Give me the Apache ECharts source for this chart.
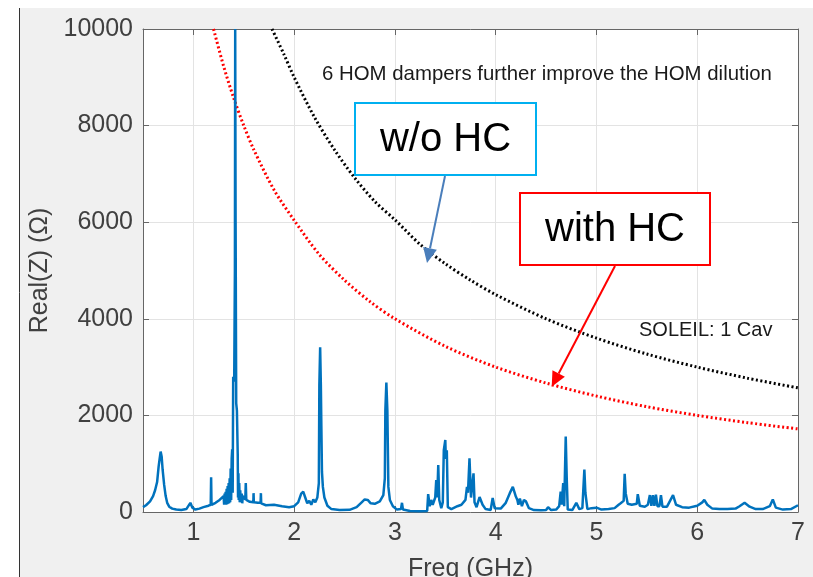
<!DOCTYPE html>
<html>
<head>
<meta charset="utf-8">
<script src="https://cdn.jsdelivr.net/npm/echarts@6/dist/echarts.min.js"></script>
<style>html,body{margin:0;padding:0;background:#fff}#c{width:813px;height:577px}</style>
</head>
<body>
<div id="c"></div>
<script>
// ---- data ----
const xTicks = [1, 2, 3, 4, 5, 6, 7];
const yTicks = [0, 2000, 4000, 6000, 8000, 10000];

const specFreq = [0.50,0.53,0.57,0.60,0.62,0.64,0.655,0.665,0.675,0.685,0.695,0.71,0.725,0.74,0.76,0.79,0.83,0.88,0.93,0.97,0.99,1.02,1.06,1.10,1.15,1.172,1.176,1.18,1.22,1.26,1.30,1.305,1.31,1.315,1.32,1.325,1.33,1.335,1.34,1.345,1.35,1.355,1.36,1.365,1.37,1.375,1.38,1.385,1.39,1.395,1.405,1.412,1.415,1.419,1.425,1.432,1.44,1.443,1.447,1.45,1.455,1.46,1.465,1.47,1.48,1.485,1.49,1.515,1.52,1.525,1.56,1.595,1.597,1.60,1.64,1.667,1.67,1.673,1.72,1.80,1.88,1.95,2.00,2.04,2.07,2.09,2.11,2.13,2.15,2.17,2.19,2.21,2.23,2.245,2.25,2.258,2.265,2.27,2.276,2.285,2.30,2.33,2.37,2.45,2.55,2.62,2.67,2.70,2.73,2.76,2.80,2.85,2.885,2.90,2.905,2.915,2.925,2.935,2.95,2.98,3.02,3.06,3.07,3.08,3.15,3.25,3.32,3.33,3.345,3.36,3.375,3.40,3.41,3.42,3.43,3.44,3.46,3.475,3.485,3.50,3.505,3.515,3.525,3.56,3.62,3.66,3.70,3.715,3.725,3.74,3.755,3.78,3.79,3.81,3.84,3.87,3.90,3.95,3.97,3.99,4.05,4.10,4.14,4.17,4.20,4.215,4.225,4.24,4.26,4.28,4.30,4.33,4.38,4.45,4.50,4.52,4.55,4.60,4.63,4.645,4.655,4.67,4.68,4.695,4.705,4.715,4.76,4.80,4.83,4.86,4.88,4.89,4.91,4.95,5.00,5.05,5.12,5.18,5.22,5.24,5.27,5.28,5.29,5.31,5.35,5.40,5.41,5.43,5.48,5.51,5.53,5.545,5.56,5.575,5.59,5.605,5.625,5.64,5.655,5.70,5.76,5.79,5.85,5.92,6.00,6.05,6.07,6.10,6.15,6.22,6.30,6.38,6.42,6.47,6.52,6.58,6.65,6.72,6.75,6.78,6.85,6.93,7.00];
const specZ = [100,140,220,330,450,620,940,1100,1250,1150,870,560,330,190,110,70,50,40,60,190,90,50,70,100,130,150,720,150,190,250,330,150,380,150,420,150,480,160,540,170,600,180,700,200,900,250,1100,1300,400,2800,2700,5000,10000,6000,2250,2100,1200,300,800,250,600,200,450,200,380,180,330,260,600,250,210,200,390,200,190,190,390,180,140,150,120,100,120,200,380,420,300,180,230,150,260,200,300,600,2630,3410,2630,1770,830,520,300,130,60,40,45,100,200,260,250,180,170,220,350,700,2100,2680,2100,520,250,120,50,60,190,50,20,15,20,370,120,250,150,300,660,300,970,250,80,200,1280,1490,1100,1280,100,60,120,150,250,520,400,1110,300,800,200,100,310,150,60,40,290,80,70,190,390,520,320,250,150,280,120,250,220,80,40,35,40,100,40,50,120,420,150,600,120,1560,700,50,40,190,60,80,880,400,60,80,90,50,60,80,150,180,230,790,390,170,150,170,370,130,110,150,350,130,350,130,360,120,120,350,110,110,350,150,100,90,130,200,250,150,70,60,60,70,120,190,110,60,60,120,260,90,50,60,140];

const noHcFreq = [1.78,1.9,2.0,2.2,2.4,2.6,2.8,3.0,3.25,3.5,3.75,4.0,4.5,5.0,5.5,6.0,6.5,7.0];
const noHcZ    = [10000,9470,9000,8180,7500,6920,6430,6050,5540,5140,4800,4500,4000,3600,3270,3000,2770,2570];

const hcFreq = [1.2,1.3,1.4,1.5,1.6,1.8,2.0,2.25,2.5,2.75,3.0,3.5,4.0,4.5,5.0,5.5,6.0,6.5,7.0];
const hcZ    = [10000,9230,8570,8000,7500,6670,6040,5330,4800,4360,4000,3430,3000,2670,2400,2180,2000,1850,1720];

const zip = (a, b) => a.map((v, i) => [v, b[i]]);

const FONT = 'Liberation Sans, Arial, Helvetica, sans-serif';
const AX = '#666666';
const LBL = '#404040';

const chart = echarts.init(document.getElementById('c'), null, {renderer: 'canvas'});

function arrow(x1, y1, x2, y2, color, headLen, halfW) {
  const dx = x2 - x1, dy = y2 - y1, L = Math.hypot(dx, dy);
  const ux = dx / L, uy = dy / L;
  const bx = x2 - ux * headLen, by = y2 - uy * headLen;
  const px = -uy, py = ux;
  return [
    {type: 'line', z: 100, shape: {x1: x1, y1: y1, x2: bx, y2: by}, style: {stroke: color, lineWidth: 2}},
    {type: 'polygon', z: 100, shape: {points: [[x2, y2], [bx + px * halfW, by + py * halfW], [bx - px * halfW, by - py * halfW]]}, style: {fill: color}}
  ];
}

const option = {
  backgroundColor: '#f0f0f0',
  animation: false,
  grid: {left: 143, right: 15, top: 29, bottom: 65, show: true, backgroundColor: '#ffffff', borderWidth: 0, containLabel: false, outerBoundsMode: 'none'},
  xAxis: [{
    type: 'value', min: 0.5, max: 7, position: 'bottom',
    name: 'Freq (GHz)', nameLocation: 'middle', nameGap: 45,
    nameTextStyle: {fontSize: 25, color: LBL, fontFamily: FONT},
    axisLine: {show: true, onZero: false, lineStyle: {color: AX, width: 1}},
    axisTick: {show: true, inside: true, length: 6, customValues: xTicks, lineStyle: {color: AX}},
    axisLabel: {show: true, customValues: xTicks, fontSize: 25, color: LBL, fontFamily: FONT, margin: 9},
    splitLine: {show: true, lineStyle: {color: '#e3e3e3', width: 1}}
  }, {
    type: 'value', min: 0.5, max: 7, position: 'top',
    axisLine: {show: true, onZero: false, lineStyle: {color: AX, width: 1}},
    axisTick: {show: true, inside: true, length: 6, customValues: xTicks, lineStyle: {color: AX}},
    axisLabel: {show: false},
    splitLine: {show: false}
  }],
  yAxis: [{
    type: 'value', min: 0, max: 10000, interval: 2000, position: 'left',
    name: 'Real(Z) (Ω)', nameLocation: 'middle', nameGap: 87, nameRotate: 90,
    nameTextStyle: {fontSize: 25, color: LBL, fontFamily: FONT},
    axisLine: {show: true, onZero: false, lineStyle: {color: AX, width: 1}},
    axisTick: {show: true, inside: true, length: 6, lineStyle: {color: AX}},
    axisLabel: {show: true, fontSize: 25, color: LBL, fontFamily: FONT, margin: 10, formatter: v => String(v)},
    splitLine: {show: true, lineStyle: {color: '#e3e3e3', width: 1}}
  }, {
    type: 'value', min: 0, max: 10000, interval: 2000, position: 'right',
    axisLine: {show: true, onZero: false, lineStyle: {color: AX, width: 1}},
    axisTick: {show: true, inside: true, length: 6, lineStyle: {color: AX}},
    axisLabel: {show: false},
    splitLine: {show: false}
  }],
  series: [
    {type: 'line', name: 'SOLEIL 1 Cav', data: zip(noHcFreq, noHcZ), symbol: 'none', smooth: 0.3,
     lineStyle: {color: '#000000', width: 3, type: [2, 2.5]}, z: 3},
    {type: 'line', name: 'with HC', data: zip(hcFreq, hcZ), symbol: 'none', smooth: 0.3,
     lineStyle: {color: '#ff0000', width: 3, type: [2, 2.5]}, z: 3},
    {type: 'line', name: 'Real(Z)', data: zip(specFreq, specZ), symbol: 'none',
     lineStyle: {color: '#0072bd', width: 2.5}, z: 4}
  ],
  graphic: [
    {type: 'rect', z: 100, shape: {x: 0, y: 0, width: 813, height: 8}, style: {fill: '#ffffff'}},
    {type: 'rect', z: 100, shape: {x: 0, y: 0, width: 19, height: 577}, style: {fill: '#ffffff'}},
    {type: 'line', z: 101, shape: {x1: 19.5, y1: 8, x2: 19.5, y2: 577}, style: {stroke: '#333333', lineWidth: 1}},
    {type: 'text', z: 100, left: 322, top: 64, style: {text: '6 HOM dampers further improve the HOM dilution', font: '20.4px ' + FONT, fill: '#1a1a1a'}},
    {type: 'text', z: 100, left: 639, top: 320, style: {text: 'SOLEIL: 1 Cav', font: '20px ' + FONT, fill: '#1a1a1a'}},
    {type: 'rect', z: 100, shape: {x: 355, y: 103, width: 181, height: 72}, style: {fill: '#ffffff', stroke: '#00b0f0', lineWidth: 2}},
    {type: 'text', z: 101, x: 445.5, y: 140, style: {text: 'w/o HC', font: '40px ' + FONT, fill: '#000000', align: 'center', verticalAlign: 'middle'}},
    {type: 'rect', z: 100, shape: {x: 520, y: 193, width: 190, height: 72}, style: {fill: '#ffffff', stroke: '#ff0000', lineWidth: 2}},
    {type: 'text', z: 101, x: 615, y: 230, style: {text: 'with HC', font: '40px ' + FONT, fill: '#000000', align: 'center', verticalAlign: 'middle'}}
  ].concat(arrow(445, 176, 427, 263, '#4a7ebb', 15, 7))
   .concat(arrow(615, 266, 551.7, 386.7, '#ff0000', 15, 7))
};
chart.setOption(option);
</script>
</body>
</html>
